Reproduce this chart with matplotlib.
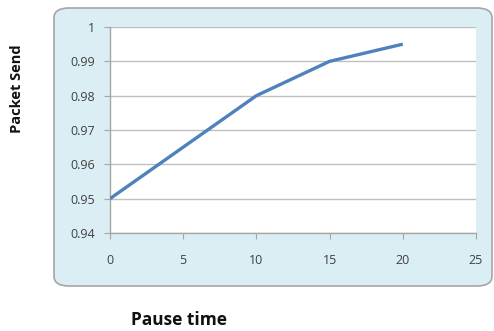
import matplotlib
matplotlib.use("Agg")
import matplotlib.pyplot as plt
from matplotlib.patches import FancyBboxPatch

pause_time = [0, 5, 10, 15, 20]
packet_send = [0.95, 0.965, 0.98, 0.99, 0.995]
x_ticks = [0, 5, 10, 15, 20, 25]
y_ticks = [0.94, 0.95, 0.96, 0.97, 0.98, 0.99, 1.0]
y_tick_labels = ["0.94", "0.95", "0.96", "0.97", "0.98", "0.99", "1"]

W, H = 494, 331
fig = plt.figure(figsize=(W / 100, H / 100), dpi=100)
fig.patch.set_facecolor("white")

# rounded background panel
bx0, by0, bx1, by1 = 54, 8, 492, 286
box = FancyBboxPatch((bx0 / W, 1 - by1 / H), (bx1 - bx0) / W, (by1 - by0) / H,
                     boxstyle="round,pad=0,rounding_size=0.03",
                     transform=fig.transFigure, facecolor="#DAEEF3",
                     edgecolor="#A6A6A6", linewidth=1.2, zorder=-5)
fig.patches.append(box)

ax = fig.add_axes([110 / W, 1 - 233 / H, (476 - 110) / W, (233 - 27) / H])
ax.set_zorder(2)
ax.set_facecolor("white")
ax.plot(pause_time, packet_send, color="#4F81BD", linewidth=2.4,
        solid_capstyle="butt", zorder=3)
ax.set_xlim(0, 25)
ax.set_ylim(0.94, 1.0)
ax.set_xticks(x_ticks)
ax.set_xticklabels([str(v) for v in x_ticks])
ax.set_yticks(y_ticks)
ax.set_yticklabels(y_tick_labels)
ax.grid(axis="y", color="#BFBFBF", linewidth=1.0)
ax.set_axisbelow(True)
for s in ["top", "right"]:
    ax.spines[s].set_visible(False)
for s in ["left", "bottom"]:
    ax.spines[s].set_color("#A6A6A6")
    ax.spines[s].set_linewidth(1.0)
ax.tick_params(axis="both", colors="#A6A6A6", labelcolor="#404040",
               labelsize=9)
ax.tick_params(axis="y", length=4.5, pad=6)
ax.tick_params(axis="x", length=4, pad=11)
for lab in ax.get_xticklabels() + ax.get_yticklabels():
    lab.set_family("Open Sans")

fig.text(17 / W, 1 - 89 / H, "Packet Send", rotation=90, ha="center",
         va="center", fontsize=10.5, fontweight="bold", family="Open Sans",
         color="#111111")
fig.text(179 / W, 1 - 320 / H, "Pause time", ha="center", va="center",
         fontsize=12.5, fontweight="bold", family="Open Sans", color="#111111")

fig.savefig("out.png", dpi=100)
